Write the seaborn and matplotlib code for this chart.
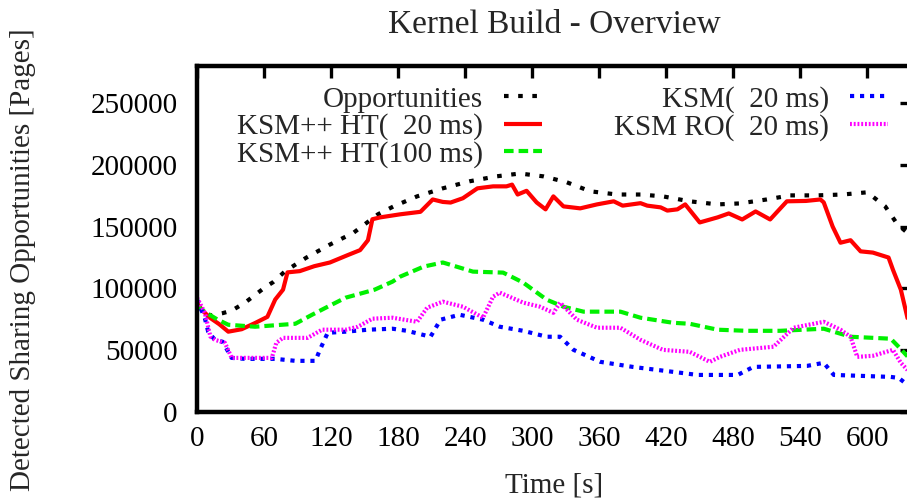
import matplotlib
matplotlib.use("Agg")
import matplotlib.pyplot as plt
import seaborn as sns
import pandas as pd

# Time stamps [s] and detected sharing opportunities [pages] for each run
opp_t = [0, 12, 23, 31, 43, 61, 68, 79, 98, 119, 140, 162, 176, 197, 220, 244, 268,
         289, 310, 331, 352, 376, 397, 417, 441, 466, 486, 510, 531, 555, 578, 600,
         616, 627, 636]
opp_v = [86000, 78000, 80000, 82000, 88500, 101000, 105000, 114000, 125000, 135500,
         145000, 160000, 166400, 174500, 181000, 186700, 190700, 193000, 190700,
         185900, 178600, 176000, 176000, 174500, 170500, 168000, 168800, 172000,
         175300, 175300, 176000, 177800, 166400, 151800, 145000]

ht20_t = [0, 5, 12, 20, 28, 40, 52, 63, 70, 77, 81, 92, 105, 119, 135, 146, 153, 157,
          164, 182, 200, 211, 220, 227, 238, 251, 265, 277, 282, 287, 295, 304, 312,
          319, 328, 343, 358, 373, 381, 397, 403, 415, 421, 430, 437, 450, 466, 476,
          488, 500, 513, 528, 545, 558, 561, 569, 576, 585, 594, 605, 619, 623, 630,
          636, 640]
ht20_v = [88000, 82000, 76000, 71000, 65000, 67000, 72000, 77000, 91000, 99000,
          113000, 114000, 118000, 121000, 127000, 131000, 139000, 156000, 157500,
          160000, 162000, 172000, 170000, 169500, 173000, 181000, 182600, 182600,
          184000, 176000, 179000, 169600, 164000, 174500, 166400, 164800, 168000,
          170500, 167000, 169000, 167000, 165600, 163000, 164000, 168000, 153400,
          157500, 160700, 155800, 162300, 155800, 170500, 170800, 172000, 169600,
          150000, 137000, 139000, 130000, 129000, 125000, 115000, 99000, 76000, 70000]

ht100_t = [0, 7, 18, 28, 52, 88, 103, 117, 133, 159, 175, 182, 203, 220, 235, 247,
           274, 283, 292, 313, 328, 346, 379, 397, 426, 441, 466, 492, 522, 561, 585,
           621, 628, 636]
ht100_v = [86000, 81000, 75000, 70600, 69000, 71400, 78700, 85200, 92500, 99000,
           105500, 109600, 117700, 121000, 116900, 113600, 112800, 108800, 104700,
           90900, 85200, 81200, 81200, 76300, 72200, 71400, 66600, 65700, 65700,
           67400, 60900, 59300, 52800, 45000]

ksm_t = [0, 7, 10, 16, 23, 31, 43, 70, 88, 106, 110, 117, 133, 153, 175, 188, 209,
         218, 235, 256, 271, 292, 313, 325, 337, 361, 390, 426, 448, 484, 498, 546,
         561, 570, 621, 628, 636]
ksm_v = [91000, 76000, 65000, 58400, 56800, 43800, 43000, 43000, 41400, 41400,
         50300, 64100, 65000, 66600, 67400, 65700, 60900, 74700, 78700, 74700, 69000,
         65700, 60900, 60900, 50300, 40600, 36500, 32500, 30000, 30000, 36500, 37300,
         39800, 30000, 28400, 27600, 22000]

ro_t = [0, 7, 12, 16, 25, 31, 67, 71, 77, 99, 112, 133, 144, 157, 175, 197, 206, 220,
        238, 256, 265, 271, 292, 307, 319, 325, 340, 358, 379, 397, 417, 441, 459,
        468, 486, 516, 534, 561, 576, 585, 591, 605, 623, 630, 636]
ro_v = [92500, 80300, 61000, 58400, 56000, 43800, 43800, 56000, 60000, 60000, 66600,
        66600, 69000, 75500, 76300, 73000, 84400, 89300, 85200, 76300, 93300, 96600,
        88500, 85200, 80300, 88500, 74700, 68200, 68200, 58400, 50300, 48700, 40600,
        44600, 50300, 52800, 68200, 73000, 66600, 60900, 44600, 45500, 50300, 39800,
        34000]

labels = ["Opportunities", "KSM++ HT(  20 ms)", "KSM++ HT(100 ms)",
          "KSM(  20 ms)", "KSM RO(  20 ms)"]
x_ticks = [0, 60, 120, 180, 240, 300, 360, 420, 480, 540, 600]
y_ticks = [0, 50000, 100000, 150000, 200000, 250000]

sns.set_style("white")
plt.rcParams["font.family"] = ["Liberation Serif", "DejaVu Serif"]

FS = 21
fig = plt.figure(figsize=(9.07, 5.01), dpi=100)
ax = fig.add_axes([197 / 907, 1 - 412 / 501, (912 - 197) / 907, (412 - 66) / 501])

series = [
    (opp_t, opp_v, "black", (0, (1.1, 2.3))),
    (ht20_t, ht20_v, "#ff0000", "-"),
    (ht100_t, ht100_v, "#00f000", (0, (2.3, 1.2))),
    (ksm_t, ksm_v, "#0000ff", (0, (1.0, 1.4))),
    (ro_t, ro_v, "#ff00ff", (0, (0.45, 0.45))),
]
for (t, v, c, ls), lab in zip(series, labels):
    df = pd.DataFrame({"t": t, "v": v})
    sns.lineplot(data=df, x="t", y="v", ax=ax, color=c, linestyle=ls, lw=3,
                 label=lab, dash_capstyle="butt", solid_capstyle="butt",
                 estimator=None, legend=False)

ax.set_xlim(0, 640)
ax.set_ylim(0, 280000)
ax.set_xticks(x_ticks)
ax.set_yticks(y_ticks)
ax.set_xticklabels([str(x) for x in x_ticks])
ax.set_yticklabels([str(y) for y in y_ticks])
ax.tick_params(direction="in", length=8.5, width=2.4, top=True, right=True,
               labelsize=FS, colors="black")
ax.tick_params(axis="x", pad=10)
ax.tick_params(axis="y", pad=14)
for s in ax.spines.values():
    s.set_linewidth(3.2)
    s.set_color("black")
    s.set_visible(True)

ax.set_xlabel("Time [s]", fontsize=FS)
ax.set_ylabel("Detected Sharing Opportunities [Pages]", fontsize=FS)
ax.xaxis.set_label_coords(0.5, -0.175)
ax.yaxis.set_label_coords(-0.225, 0.44)
ax.set_title("Kernel Build - Overview", fontsize=24, pad=24)

handles = ax.get_lines()
ax.legend(handles, labels, ncol=2, markerfirst=False, frameon=False,
          loc="upper right", bbox_to_anchor=(0.966, 0.942), fontsize=FS,
          handlelength=1.3, handletextpad=0.7, columnspacing=2.5,
          labelspacing=0.02, borderpad=0, borderaxespad=0)

fig.savefig("out.png", dpi=100)
